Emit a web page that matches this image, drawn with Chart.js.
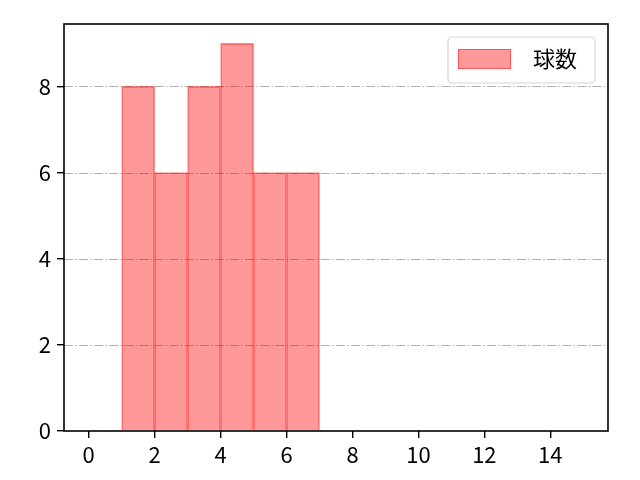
<!DOCTYPE html>
<html>
<head>
<meta charset="utf-8">
<script src="https://cdn.jsdelivr.net/npm/chart.js@4"></script>
<style>
html,body{margin:0;padding:0;background:#fff;}
#wrap{width:640px;height:480px;}
</style>
</head>
<body>
<div id="wrap"><canvas id="c" width="640" height="480"></canvas></div>
<script>
const binStarts = [1, 2, 3, 4, 5, 6];
const counts = [8, 6, 8, 9, 6, 6];
const xTicks = [0, 2, 4, 6, 8, 10, 12, 14];
const yTicks = [0, 2, 4, 6, 8];
const seriesLabel = '球数';

const FONT = '"Noto Sans CJK JP", "DejaVu Sans", sans-serif';
const points = binStarts.map((b, i) => ({x: b + 0.5, y: counts[i]}));

const framePlugin = {
  id: 'frame',
  beforeDatasetsDraw(chart) {
    const ctx = chart.ctx, a = chart.chartArea, y = chart.scales.y;
    ctx.save();
    ctx.strokeStyle = '#b0b0b0';
    ctx.lineWidth = 1.1;
    ctx.setLineDash([9, 2.3, 1.5, 2.3]);
    yTicks.forEach(v => {
      if (v === 0) return;
      const py = Math.round(y.getPixelForValue(v)) + 0.5;
      ctx.beginPath();
      ctx.moveTo(a.left, py);
      ctx.lineTo(a.right, py);
      ctx.stroke();
    });
    ctx.restore();
  },
  afterDraw(chart) {
    const ctx = chart.ctx, a = chart.chartArea;
    ctx.save();
    ctx.strokeStyle = '#000';
    ctx.lineWidth = 1.6;
    ctx.strokeRect(a.left, a.top, a.right - a.left, a.bottom - a.top);
    // legend
    const ds = chart.data.datasets[0];
    const bx = 448, by = 37, bw = 147, bh = 46, r = 4;
    ctx.fillStyle = 'rgba(255,255,255,0.8)';
    ctx.strokeStyle = '#d6d6d6';
    ctx.lineWidth = 1.2;
    ctx.beginPath();
    ctx.moveTo(bx + r, by);
    ctx.arcTo(bx + bw, by, bx + bw, by + bh, r);
    ctx.arcTo(bx + bw, by + bh, bx, by + bh, r);
    ctx.arcTo(bx, by + bh, bx, by, r);
    ctx.arcTo(bx, by, bx + bw, by, r);
    ctx.closePath();
    ctx.fill();
    ctx.stroke();
    ctx.fillStyle = ds.backgroundColor;
    ctx.fillRect(458, 49, 53, 20);
    ctx.strokeStyle = ds.borderColor;
    ctx.lineWidth = 1;
    ctx.strokeRect(458.5, 49.5, 52, 19);
    ctx.fillStyle = '#000';
    ctx.font = '22px ' + FONT;
    ctx.textBaseline = 'middle';
    ctx.textAlign = 'left';
    ctx.fillText(ds.label, 533, 59);
    ctx.restore();
  }
};

new Chart(document.getElementById('c'), {
  type: 'bar',
  data: {
    datasets: [{
      label: seriesLabel,
      data: points,
      backgroundColor: 'rgba(255,0,0,0.4)',
      borderColor: 'rgba(255,0,0,0.45)',
      borderWidth: 1,
      barPercentage: 1,
      categoryPercentage: 1,
      grouped: false
    }]
  },
  options: {
    responsive: false,
    animation: false,
    devicePixelRatio: 1,
    layout: {padding: {left: 0, right: 32, top: 24, bottom: 0}},
    plugins: {legend: {display: false}, tooltip: {enabled: false}},
    scales: {
      x: {
        type: 'linear',
        offset: false,
        min: -0.75,
        max: 15.75,
        afterBuildTicks(s) { s.ticks = xTicks.map(v => ({value: v})); },
        afterFit(s) { s.height = 49; },
        grid: {offset: false, drawOnChartArea: false, drawTicks: true, tickLength: 7, color: '#000', tickColor: '#000', lineWidth: 1.4},
        border: {display: false},
        ticks: {color: '#000', font: {size: 22, family: FONT}, padding: 3, maxRotation: 0, autoSkip: false}
      },
      y: {
        type: 'linear',
        min: 0,
        max: 9.45,
        afterBuildTicks(s) { s.ticks = yTicks.map(v => ({value: v})); },
        afterFit(s) { s.width = 64; },
        grid: {drawOnChartArea: false, drawTicks: true, tickLength: 7, color: '#000', tickColor: '#000', lineWidth: 1.4},
        border: {display: false},
        ticks: {color: '#000', font: {size: 22, family: FONT}, padding: 6}
      }
    }
  },
  plugins: [framePlugin]
});
</script>
</body>
</html>
